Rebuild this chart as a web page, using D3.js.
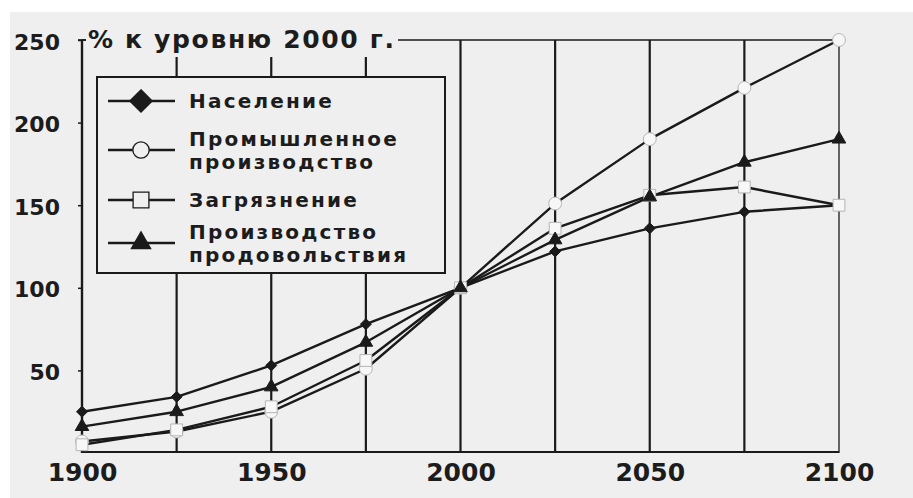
<!DOCTYPE html>
<html>
<head>
<meta charset="utf-8">
<script src="https://cdn.jsdelivr.net/npm/d3@7"></script>
<style>
  html, body { margin: 0; padding: 0; background: #ffffff; }
  svg { display: block; }
  text { font-family: "DejaVu Sans", sans-serif; font-weight: bold; fill: #1c1c1c; }
</style>
</head>
<body>
<svg id="chart" width="913" height="498"></svg>
<script>
// ---- data ----
const years = [1900, 1925, 1950, 1975, 2000, 2025, 2050, 2075, 2100];
const population = [25, 34, 53, 78, 100, 122, 136, 146, 150];
const industry   = [7, 13, 25, 51, 100, 151, 190, 221, 250];
const pollution  = [5, 14, 28, 56, 100, 136, 156, 161, 150];
const food       = [16, 25, 40, 67, 100, 129, 155, 176, 190];
const seriesNames = ["Население", ["Промышленное", "производство"], "Загрязнение", ["Производство", "продовольствия"]];
const xTickLabels = [1900, 1950, 2000, 2050, 2100];
const yTickLabels = [50, 100, 150, 200, 250];
const yTitle = "% к уровню 2000 г.";

const svg = d3.select("#chart");
const bg = "#efefef";
svg.append("rect").attr("x", 10).attr("y", 12).attr("width", 903).attr("height", 486).attr("fill", bg);

const x = d3.scaleLinear().domain([1900, 2100]).range([82, 839]);
const y = d3.scaleLinear().domain([0, 250]).range([453, 40]);

const ink = "#1a1a1a";

// rotated-square diamond symbol
const diamond = {
  draw(context, size) {
    const r = Math.sqrt(size / 2);
    context.moveTo(0, -r); context.lineTo(r, 0); context.lineTo(0, r); context.lineTo(-r, 0); context.closePath();
  }
};

// vertical grid lines
svg.append("g").selectAll("line").data(years.slice(1)).join("line")
  .attr("x1", d => x(d)).attr("x2", d => x(d))
  .attr("y1", y(250)).attr("y2", y(0))
  .attr("stroke", ink)
  .attr("stroke-width", d => d === 2100 ? 1.3 : 2.2);

// top line
svg.append("line").attr("x1", x(1900)).attr("x2", x(2100)).attr("y1", y(250)).attr("y2", y(250))
  .attr("stroke", ink).attr("stroke-width", 1.6);

// y axis
const yAxis = d3.axisLeft(y).tickValues(yTickLabels).tickSize(4).tickFormat("");
const gy = svg.append("g").attr("transform", `translate(${x(1900)},0)`).call(yAxis);
gy.select(".domain").remove();
gy.selectAll(".tick line").attr("stroke", ink).attr("stroke-width", 1.5);
svg.append("line").attr("x1", x(1900)).attr("x2", x(1900)).attr("y1", y(250)).attr("y2", y(0))
  .attr("stroke", ink).attr("stroke-width", 2.4);
svg.append("line").attr("x1", x(1900) - 4).attr("x2", x(1900) + 4).attr("y1", y(250)).attr("y2", y(250))
  .attr("stroke", ink).attr("stroke-width", 1.6);

svg.append("g").selectAll("text").data(yTickLabels).join("text")
  .attr("x", 60).attr("y", d => y(d) + 2)
  .attr("text-anchor", "end").attr("dominant-baseline", "central")
  .attr("font-size", 22)
  .text(d => d);

// x axis
const xAxis = d3.axisBottom(x).tickValues(xTickLabels).tickSize(0).tickFormat(d => d);
const gx = svg.append("g").attr("transform", `translate(0,${y(0)})`).call(xAxis);
gx.select(".domain").remove();
gx.selectAll(".tick text").attr("font-size", 25).attr("dy", "1.0em")
  .style("font-family", "DejaVu Sans").style("font-weight", "bold").attr("fill", "#1c1c1c");
svg.append("line").attr("x1", x(1900)).attr("x2", x(2100)).attr("y1", y(0) - 1).attr("y2", y(0) - 1)
  .attr("stroke", ink).attr("stroke-width", 2.2);

// title with background
svg.append("rect").attr("x", 86).attr("y", 26).attr("width", 312).attr("height", 31).attr("fill", bg);
svg.append("text").attr("x", 88).attr("y", 48).attr("font-size", 25).attr("textLength", 306)
  .text(yTitle);

// series
const series = [
  { values: population, symbol: diamond, size: 60, fill: ink, legendSize: 250 },
  { values: industry, symbol: d3.symbolCircle, size: 130, fill: "#f7f7f7", legendSize: 210 },
  { values: pollution, symbol: d3.symbolSquare, size: 140, fill: "#f7f7f7", legendSize: 250 },
  { values: food, symbol: d3.symbolTriangle, size: 80, fill: ink, legendSize: 160 }
];

const line = d3.line().x((d, i) => x(years[i])).y(d => y(d));
svg.append("g").selectAll("path").data(series).join("path")
  .attr("d", s => line(s.values))
  .attr("fill", "none").attr("stroke", ink).attr("stroke-width", 2.4).attr("stroke-linejoin", "round");

series.forEach(s => {
  svg.append("g").selectAll("path").data(s.values).join("path")
    .attr("transform", (d, i) => `translate(${x(years[i])},${y(d)})`)
    .attr("d", d3.symbol().type(s.symbol).size(s.size))
    .attr("fill", s.fill)
    .attr("stroke", s.fill === ink ? ink : "#b5b5b5")
    .attr("stroke-width", 1);
});

// legend
const lg = svg.append("g");
lg.append("rect").attr("x", 97).attr("y", 77).attr("width", 348).attr("height", 196)
  .attr("fill", bg).attr("stroke", ink).attr("stroke-width", 2);
const rowY = [101, 150, 200, 243];
series.forEach((s, i) => {
  lg.append("line").attr("x1", 108).attr("x2", 175).attr("y1", rowY[i]).attr("y2", rowY[i])
    .attr("stroke", ink).attr("stroke-width", 2.4);
  lg.append("path").attr("transform", `translate(141,${rowY[i]})`)
    .attr("d", d3.symbol().type(s.symbol).size(s.legendSize))
    .attr("fill", s.fill === ink ? ink : bg).attr("stroke", ink).attr("stroke-width", 1.3);
  const name = seriesNames[i];
  const lines = Array.isArray(name) ? name : [name];
  const y0 = lines.length === 1 ? rowY[i] : rowY[i] - 11.5;
  lines.forEach((t, j) => {
    lg.append("text").attr("x", 189).attr("y", y0 + j * 23.5)
      .attr("dominant-baseline", "central").attr("font-size", 20)
      .attr("letter-spacing", 2.2).text(t);
  });
});
</script>
</body>
</html>
